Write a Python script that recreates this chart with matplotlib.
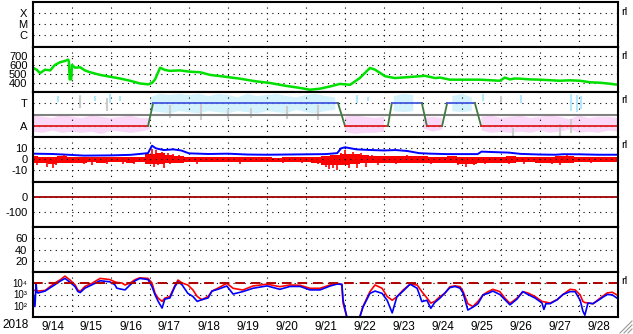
import numpy as np
import matplotlib
matplotlib.use('Agg')
import matplotlib.pyplot as plt
from matplotlib.lines import Line2D

plt.rcParams['font.family'] = ['Liberation Sans', 'DejaVu Sans']
plt.rcParams['axes.unicode_minus'] = False

# ---- data (time in days since 2018-09-14 00:00) ----
day_labels = ['9/14', '9/15', '9/16', '9/17', '9/18', '9/19', '9/20', '9/21',
              '9/22', '9/23', '9/24', '9/25', '9/26', '9/27', '9/28']

# solar wind speed
vsw_t = [0.00, 0.10, 0.18, 0.31, 0.44, 0.56, 0.69, 0.82, 0.90, 0.92, 0.94, 0.98,
         1.00, 1.08, 1.21, 1.33, 1.46, 1.72, 1.97, 2.23, 2.49, 2.74, 2.95, 3.05,
         3.13, 3.26, 3.38, 3.51, 3.77, 4.03, 4.28, 4.54, 4.92, 5.31, 5.69, 6.08,
         6.46, 6.85, 7.10, 7.36, 7.62, 7.87, 8.13, 8.38, 8.64, 8.77, 9.03, 9.28,
         9.67, 10.05, 10.31, 10.44, 10.69, 10.95, 11.46, 11.97, 12.10, 12.23,
         12.36, 12.49, 12.74, 13.00, 13.51, 13.77, 14.03, 14.28, 14.54, 14.79, 15.00]
vsw = [570, 545, 510, 548, 540, 600, 630, 645, 660, 640, 440, 440,
       600, 570, 575, 540, 520, 490, 470, 450, 425, 395, 385, 400,
       440, 570, 545, 535, 540, 525, 520, 490, 470, 448, 420, 400,
       370, 345, 325, 337, 362, 390, 380, 455, 567, 548, 475, 455,
       467, 480, 455, 460, 437, 437, 437, 425, 460, 440,
       450, 448, 440, 437, 425, 430, 425, 408, 403, 392, 380]

# IMF sector: -1 away, +1 toward
sec_t = [0, 2.95, 3.08, 7.82, 8.0, 9.1, 9.2, 9.97, 10.1, 10.49, 10.62, 11.33, 11.49, 15]
sec_v = [-1, -1, 1, 1, -1, -1, 1, 1, -1, -1, 1, 1, -1, -1]

# magnetometer clouds, 6-hour steps (nan = none)
cloud_t = np.arange(0, 15.01, 0.25)
nan = np.nan
pink_hi = [-0.1, -0.2, -0.3, 0.0, -0.2, -0.3, -0.1, -0.2, -0.3, -0.2, -0.1, -0.3, -0.3,
           nan, nan, nan, nan, nan, nan, nan, nan, nan, nan, nan, nan, nan, nan, nan, nan, nan, nan, nan,
           -0.2, -0.1, -0.2, -0.3, -0.2, nan, nan, nan, -0.3, -0.2, -0.3, nan, nan, nan,
           -0.2, -0.1, -0.3, -0.2, -0.1, -0.3, -0.2, -0.1, -0.2, -0.4, -0.1, -0.3, -0.2, -0.2, -0.3]
pink_lo = [-1.5, -1.6, -1.4, -1.6, -1.5, -1.6, -1.5, -1.7, -1.4, -1.5, -1.6, -1.5, -1.3,
           nan, nan, nan, nan, nan, nan, nan, nan, nan, nan, nan, nan, nan, nan, nan, nan, nan, nan, nan,
           -1.5, -1.7, -1.6, -1.6, -1.5, nan, nan, nan, -1.2, -1.5, -1.3, nan, nan, nan,
           -1.4, -1.6, -1.5, -1.6, -1.5, -1.6, -1.4, -1.6, -1.5, -1.3, -1.6, -1.5, -1.6, -1.4, -1.5]
cyan_hi = [nan, nan, nan, nan, nan, nan, nan, nan, nan, nan, nan, nan, 1.5,
           1.8, 1.7, 1.8, 1.7, 1.8, 1.6, 1.8, 1.7, 1.5, 1.8, 1.6, 1.7, 1.8, 1.6, 1.5, 1.7, 1.8, 1.6, 1.5,
           nan, nan, nan, nan, nan, 1.6, 1.8, 1.7, nan, nan, nan, 1.6, 1.8, 1.5,
           nan, nan, nan, nan, nan, nan, nan, nan, nan, nan, nan, nan, nan, nan, nan]
cyan_lo = [nan, nan, nan, nan, nan, nan, nan, nan, nan, nan, nan, nan, 0.3,
           0.2, 0.1, 0.3, 0.2, 0.1, 0.3, 0.2, 0.1, 0.3, 0.2, 0.1, 0.3, 0.2, 0.1, 0.4, 0.2, 0.1, 0.3, 0.4,
           nan, nan, nan, nan, nan, 0.3, 0.2, 0.3, nan, nan, nan, 0.3, 0.2, 0.3,
           nan, nan, nan, nan, nan, nan, nan, nan, nan, nan, nan, nan, nan, nan, nan]
cyan_dash_t = [0.64, 1.2, 1.6, 1.97, 2.23, 8.3, 8.6, 11.55, 12.5, 13.8, 13.95, 14.05]
cyan_dash_lo = [1.1, 1.0, 1.2, 1.0, 1.2, 1.0, 1.2, 1.2, 1.0, 0.3, 0.2, 0.5]
cyan_dash_hi = [1.6, 1.7, 1.6, 1.8, 1.6, 1.7, 1.5, 1.8, 1.7, 1.8, 1.7, 1.6]
gray_dash_t = [1.2, 1.9, 3.5, 4.3, 5.0, 5.6, 6.5, 7.3, 12.0, 12.3, 13.5, 13.8]
gray_dash_lo = [0.6, 0.3, -0.3, -0.5, -0.4, -0.3, -0.4, -0.5, 1.0, -1.9, -1.9, -1.6]
gray_dash_hi = [1.6, 1.4, 0.8, 0.9, 0.5, 0.6, 0.7, 0.8, 1.6, -1.2, -0.8, -0.4]

# IMF Bt and Bz
bt_t = [0.0, 0.5, 1.0, 1.3, 2.0, 2.5, 2.95, 3.05, 3.15, 3.35, 3.6, 3.8, 4.0, 4.5, 5.0,
        5.5, 6.0, 6.5, 7.0, 7.5, 7.8, 7.9, 8.0, 8.3, 8.6, 9.0, 9.3, 9.6, 9.9, 10.2,
        10.6, 11.0, 11.4, 11.5, 11.8, 12.2, 12.5, 13.0, 13.4, 13.6, 14.0, 14.5, 15.0]
bt = [5.0, 4.7, 3.8, 3.2, 3.4, 3.9, 5.5, 12.5, 10.0, 8.4, 9.0, 8.0, 5.3, 4.7, 5.0,
      4.2, 4.0, 4.2, 4.4, 4.6, 5.5, 10.0, 11.0, 9.0, 8.5, 8.0, 8.4, 7.5, 5.5, 5.0,
      4.6, 4.6, 4.6, 6.9, 6.5, 6.0, 4.8, 4.2, 4.0, 4.5, 4.4, 4.0, 4.0]
bz_hi = [3, 2, 2, 3, 2, 2, 2, 2, 2, 2, 2, 2, 5, 6, 4, 3, 2, 2, 2, 2,
         2, 2, 2, 2, 2, 1, 2, 2, 2, 2, 3, 4, 5, 5, 4, 3, 3, 3, 3, 3,
         3, 2, 2, 3, 2, 2, 2, 2, 2, 3, 2, 2, 2, 2, 3, 3, 2, 2, 2, 2, 2]
bz_lo = [-4, -4, -5, -4, -4, -4, -3, -4, -3, -3, -4, -3, -5, -5, -4, -4, -3, -3, -3, -3,
         -3, -3, -3, -3, -3, -3, -3, -3, -3, -4, -6, -6, -6, -5, -4, -4, -4, -4, -4, -4,
         -4, -4, -4, -4, -5, -5, -4, -4, -4, -4, -3, -3, -4, -4, -4, -4, -3, -3, -3, -3, -3]
bz_spike_t = [0.1, 0.35, 0.5, 0.6, 0.8, 1.3, 1.5, 1.9, 2.3, 2.6,
              3.05, 3.1, 3.15, 3.2, 3.3, 3.35, 3.45, 3.5, 3.6, 3.75,
              4.2, 5.3, 6.4, 6.9,
              7.3, 7.5, 7.6, 7.7, 7.8, 7.9, 8.0, 8.1, 8.2, 8.3, 8.4, 8.55, 8.7, 8.85,
              9.3, 9.6, 10.2, 10.9, 11.1, 11.3, 11.6, 12.2, 12.6, 13.3, 13.5, 13.7, 14.3]
bz_spike = [-6, -7, -8, -6, 4, -5, -6, -5, -5, -4.5,
            9, -7, 8, -6, 7, -8, 6, -5, 5, 4,
            -4.5, -4.5, -4, -4,
            -5, -7, -9, -8, -10, 6, 8, -8, 7, -8, 6, -7, 4, -6,
            -5, 4, -5, -6, -7, -6, -5, -5, -4.5, -5, -6, 4, -4]

# electron flux (log10)
flux_red_t = [0.00, 0.05, 0.08, 0.13, 0.31, 0.56, 0.69, 0.82, 0.95, 1.08, 1.15, 1.21, 1.33,
              1.51, 1.72, 1.97, 2.10, 2.15, 2.28, 2.36, 2.49, 2.62, 2.74, 2.95, 3.05, 3.13,
              3.21, 3.31, 3.38, 3.51, 3.64, 3.72, 3.82, 3.97, 4.10, 4.21, 4.33, 4.49, 4.59,
              4.74, 4.97, 5.13, 5.38, 5.64, 6.00, 6.33, 6.59, 6.85, 7.10, 7.36, 7.62, 7.79,
              7.92, 7.95, 8.05, 8.18, 8.33, 8.46, 8.64, 8.77, 8.95, 9.08, 9.21, 9.33, 9.49,
              9.67, 9.85, 9.97, 10.10, 10.20, 10.30, 10.44, 10.56, 10.69, 10.82, 10.95,
              11.03, 11.08, 11.15, 11.28, 11.41, 11.54, 11.67, 11.79, 11.97, 12.10, 12.23,
              12.41, 12.56, 12.69, 12.87, 13.05, 13.26, 13.44, 13.59, 13.77, 13.90, 14.03,
              14.10, 14.15, 14.23, 14.36, 14.54, 14.72, 14.85, 14.97]
flux_red = [3.40, 3.35, 3.30, 3.30, 3.35, 4.00, 4.26, 4.60, 4.26, 3.83, 3.39, 3.26, 3.70,
            3.97, 4.40, 4.30, 4.10, 4.05, 4.00, 3.83, 4.00, 4.30, 4.45, 4.40, 4.00, 3.10,
            2.68, 2.40, 2.68, 2.83, 3.80, 4.26, 4.00, 3.83, 3.40, 2.83, 2.55, 2.83, 3.30,
            3.55, 3.97, 3.54, 3.39, 3.74, 3.90, 3.68, 3.83, 3.80, 3.54, 3.54, 3.83, 3.97,
            3.83, 2.26, 1.00, 0.50, 0.50, 1.95, 3.25, 3.83, 3.54, 2.83, 2.50, 2.80, 3.39,
            3.90, 3.83, 3.25, 2.70, 2.25, 2.40, 2.83, 3.10, 3.68, 3.75, 3.68,
            3.25, 2.80, 2.20, 1.95, 2.40, 2.97, 3.25, 3.45, 3.25, 2.68, 2.23,
            2.68, 3.25, 3.13, 2.83, 2.40, 2.26, 2.55, 3.00, 3.45, 3.40, 2.97,
            2.40, 2.30, 2.26, 2.20, 2.68, 3.13, 3.20, 2.97]
flux_blue_t = [0.00, 0.05, 0.08, 0.10, 0.13, 0.31, 0.56, 0.69, 0.82, 0.95, 1.08, 1.15, 1.21,
               1.33, 1.51, 1.72, 1.97, 2.10, 2.15, 2.28, 2.36, 2.49, 2.62, 2.74, 2.95, 3.05,
               3.13, 3.21, 3.31, 3.38, 3.51, 3.64, 3.72, 3.82, 3.97, 4.10, 4.21, 4.33, 4.49,
               4.59, 4.74, 4.97, 5.13, 5.38, 5.64, 6.00, 6.33, 6.59, 6.85, 7.10, 7.36, 7.62,
               7.79, 7.92, 7.95, 8.05, 8.18, 8.33, 8.46, 8.64, 8.77, 8.95, 9.08, 9.21, 9.33,
               9.49, 9.67, 9.85, 9.97, 10.10, 10.20, 10.30, 10.44, 10.56, 10.69, 10.82, 10.95,
               11.03, 11.08, 11.15, 11.28, 11.41, 11.54, 11.67, 11.79, 11.97, 12.10, 12.23,
               12.41, 12.56, 12.69, 12.87, 13.05, 13.10, 13.15, 13.26, 13.44, 13.59, 13.77,
               13.90, 14.03, 14.10, 14.15, 14.23, 14.36, 14.54, 14.72, 14.85, 14.97]
flux_blue = [3.30, 1.95, 3.90, 3.20, 3.13, 3.30, 3.85, 4.15, 4.40, 4.06, 3.68, 3.26, 3.17,
             3.55, 3.84, 4.20, 4.10, 3.84, 3.55, 3.45, 3.40, 3.84, 4.20, 4.40, 4.30, 3.70,
             2.97, 2.40, 1.82, 2.60, 2.70, 3.70, 4.10, 3.85, 3.10, 2.83, 2.40, 2.55, 2.70,
             3.30, 3.45, 3.74, 3.04, 3.25, 3.54, 3.75, 3.45, 3.70, 3.70, 3.40, 3.40, 3.74,
             3.90, 3.90, 2.50, 1.00, 0.50, 0.50, 1.90, 3.10, 3.30, 3.10, 2.50, 1.40, 2.80,
             3.30, 3.90, 3.54, 2.38, 2.50, 1.80, 2.30, 2.70, 3.13, 3.60, 3.70, 3.55,
             3.10, 2.50, 1.65, 1.90, 2.20, 2.97, 3.10, 3.30, 3.00, 2.55, 2.10,
             2.60, 3.25, 3.00, 2.70, 2.26, 1.70, 2.20, 2.20, 2.55, 3.00, 3.25,
             3.25, 2.50, 1.55, 1.20, 2.26, 2.20, 2.60, 3.00, 2.97, 2.70]
flux_threshold = 1e4
flux_ticks = [1e2, 1e3, 1e4]
flux_tick_labels = ['10²', '10³', '10⁴']

# ---- layout ----
W, H = 633, 334
fig = plt.figure(figsize=(W / 100, H / 100), dpi=100)
left, right = 33, 618
tops = [2, 47, 92, 137, 182, 227, 272]
axes = []
for top in tops:
    ax = fig.add_axes([left / W, 1 - (top + 45) / H, (right - left) / W, 45 / H])
    axes.append(ax)

DOT = (0, (1, 4))
for ax in axes:
    ax.set_xlim(0, 15)
    ax.set_xticks(range(1, 15))
    ax.set_xticks(np.arange(0.5, 15, 1), minor=True)
    ax.tick_params(which='both', length=0, labelsize=8, pad=4, labelbottom=False)
    ax.grid(which='major', color='black', lw=0.8, linestyle=DOT)
    for sp in ax.spines.values():
        sp.set_linewidth(1.5)

ax1, ax2, ax3, ax4, ax5, ax6, ax7 = axes

# X-ray class (empty)
ax1.set_ylim(-0.09, 4.0)
ax1.set_yticks([1, 2, 3], ['C', 'M', 'X'])

# solar wind speed
ax2.plot(vsw_t, vsw, color='#00e000', lw=1.8)
ax2.set_ylim(300, 800)
ax2.set_yticks([400, 500, 600, 700])

# sector
ax3.fill_between(cloud_t, pink_lo, pink_hi, color='#f7b8f2', lw=0, alpha=0.55)
ax3.fill_between(cloud_t, cyan_lo, cyan_hi, color='#b2e8fa', lw=0, alpha=0.55)
ax3.vlines(cyan_dash_t, cyan_dash_lo, cyan_dash_hi, color='#b2e8fa', lw=1.5)
ax3.vlines(gray_dash_t, gray_dash_lo, gray_dash_hi, color='#cccccc', lw=1.5)
ax3.axhline(0, color='#808080', lw=1.5)
for i in range(len(sec_t) - 1):
    v0, v1 = sec_v[i], sec_v[i + 1]
    if v0 == v1 == -1:
        c = '#e02020'
    elif v0 == v1 == 1:
        c = '#4458e0'
    else:
        c = '#407a40'
    ax3.plot(sec_t[i:i + 2], sec_v[i:i + 2], color=c, lw=1.3)
ax3.set_ylim(-1.96, 1.96)
ax3.set_yticks([-1, 1], ['A', 'T'])

# IMF
ax4.plot(bt_t, bt, color='#0000ff', lw=1.4)
ax4.fill_between(cloud_t, bz_lo, bz_hi, color='#ff0000', lw=0, step='mid')
ax4.vlines(bz_spike_t, 0, bz_spike, color='#ff0000', lw=1.2)
ax4.set_ylim(-21.5, 20.6)
ax4.set_yticks([-10, 0, 10])

# Dst (baseline only)
ax5.axhline(0, color='#a00000', lw=1.3)
ax5.set_ylim(-200, 100)
ax5.set_yticks([-100, 0])

# empty panel
ax6.set_ylim(0, 80)
ax6.set_yticks([20, 40, 60])

# electron flux
ax7.set_yscale('log')
ax7.plot(flux_red_t, 10 ** np.array(flux_red), color='#ff0000', lw=1.2)
ax7.plot(flux_blue_t, 10 ** np.array(flux_blue), color='#0000ff', lw=1.2)
ax7.axhline(flux_threshold, color='#b00000', lw=1.4, linestyle=(0, (5, 3)))
ax7.set_ylim(10 ** 1.043, 10 ** 4.957)
ax7.set_yticks(flux_ticks, flux_tick_labels)
ax7.minorticks_off()
ax7.set_xticks(range(1, 15))
ax7.set_xticks(np.arange(0.5, 15, 1), minor=True)
ax7.set_xticklabels(day_labels, minor=True)
ax7.tick_params(axis='y', labelsize=7)
ax7.tick_params(axis='x', which='minor', labelbottom=True, labelsize=8.5, pad=3)
ax7.tick_params(which='both', length=0)
ax7.grid(which='major', color='black', lw=0.8, linestyle=DOT)
ax7.grid(which='minor', visible=False)

fig.text(16 / W, 1 - 325 / H, '2018', ha='center', va='center', fontsize=8.5)
for y in [12, 56, 100, 145, 281]:
    fig.text(621 / W, 1 - y / H, 'rl', ha='left', va='center', fontsize=8)

# resize grip
for k in (5, 9, 13):
    fig.add_artist(Line2D([(W - k) / W, (W - 1) / W], [1 / H, k / H],
                          transform=fig.transFigure, color='#9a9a9a', lw=0.8))

fig.savefig('out.png', dpi=100)
